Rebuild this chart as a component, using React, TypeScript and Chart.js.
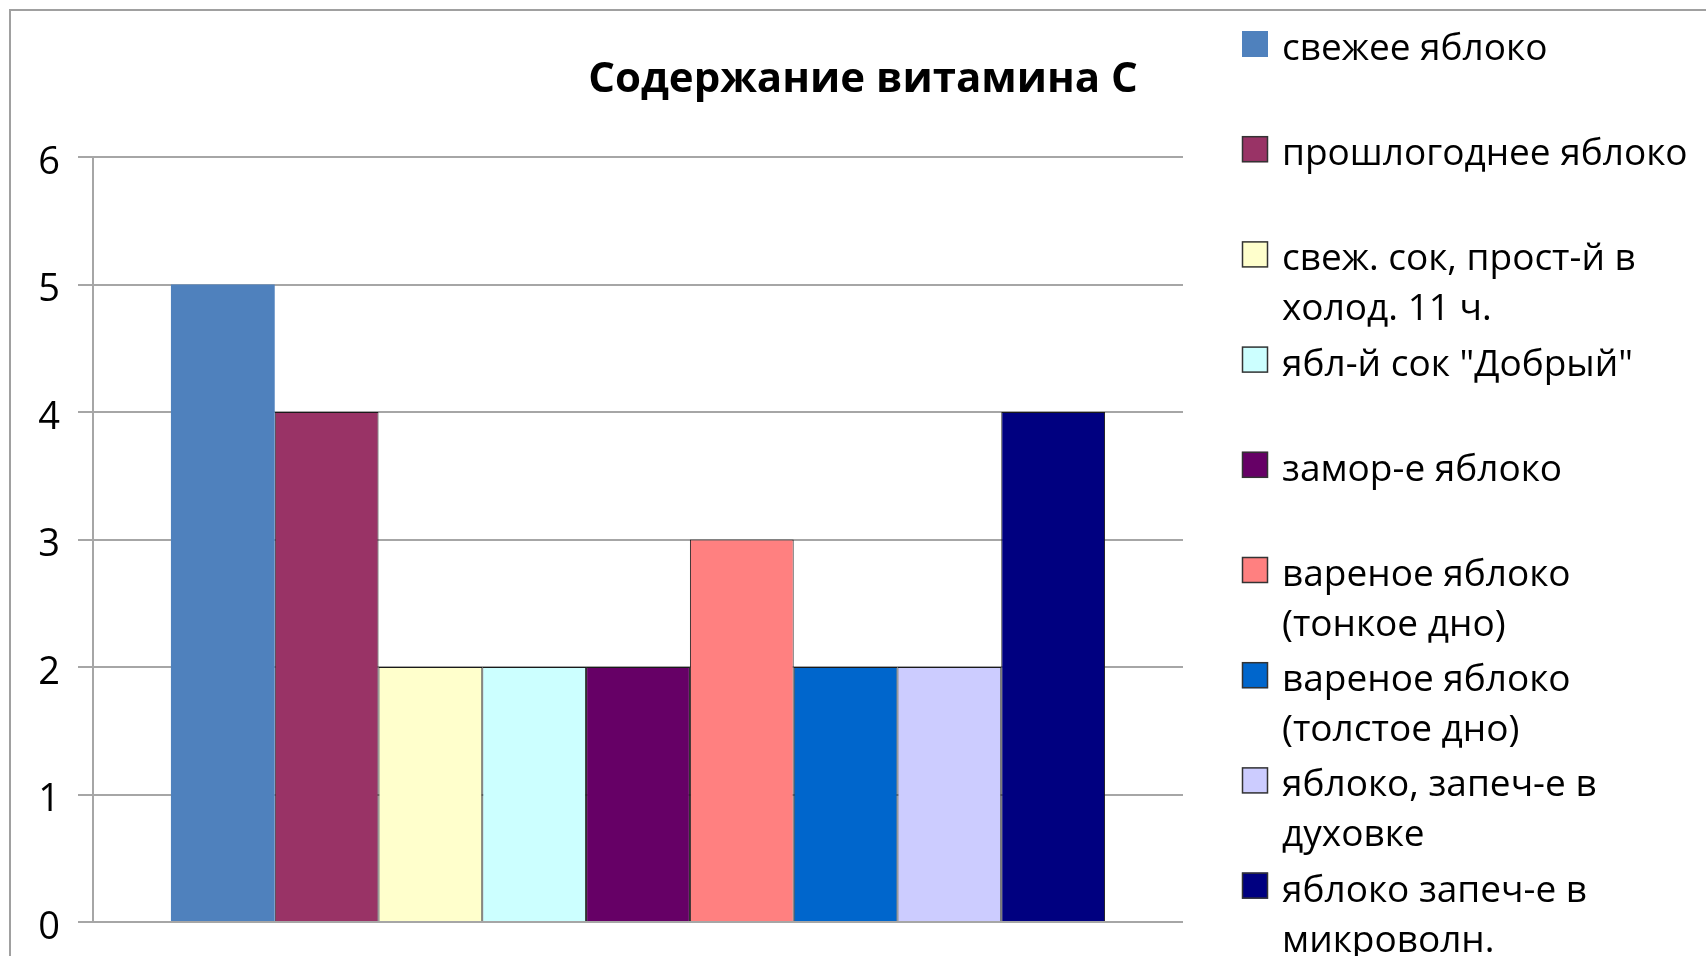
import React, { useEffect, useRef } from 'react';
import { Chart, registerables } from 'chart.js';

Chart.register(...registerables);

const FONT = '"Open Sans", "Noto Sans", sans-serif';

const chartTitle = 'Содержание витамина С';
const categories = ['Витамин С'];
const seriesLabels = [
  'свежее яблоко',
  'прошлогоднее яблоко',
  'свеж. сок, прост-й в\nхолод. 11 ч.',
  'ябл-й сок "Добрый"',
  'замор-е яблоко',
  'вареное яблоко\n(тонкое дно)',
  'вареное яблоко\n(толстое дно)',
  'яблоко, запеч-е в\nдуховке',
  'яблоко запеч-е в\nмикроволн.',
];
const seriesValues = [5, 4, 2, 2, 2, 3, 2, 2, 4];
const seriesColors = [
  '#4F81BD',
  '#993366',
  '#FFFFCC',
  '#CCFFFF',
  '#660066',
  '#FF8080',
  '#0066CC',
  '#CCCCFF',
  '#000080',
];
const seriesBorderWidths = [0, 1, 1, 1, 1, 1, 1, 1, 1];
const yMin = 0;
const yMax = 6;
const yStep = 1;

const framePlugin = {
  id: 'frame',
  beforeDraw(chart: any) {
    const ctx = chart.ctx;
    ctx.save();
    ctx.fillStyle = '#ffffff';
    ctx.fillRect(0, 0, chart.width, chart.height);
    ctx.strokeStyle = '#a0a0a0';
    ctx.lineWidth = 2;
    ctx.strokeRect(10, 10, chart.width + 50, chart.height + 50);
    ctx.restore();
  },
};

const legendPlugin = {
  id: 'sideLegend',
  afterDraw(chart: any) {
    const ctx = chart.ctx;
    ctx.save();
    ctx.font = `37px ${FONT}`;
    ctx.textAlign = 'left';
    ctx.textBaseline = 'alphabetic';
    chart.data.datasets.forEach((ds: any, i: number) => {
      const cy = 44 + 105.2 * i;
      const bx = 1242;
      const size = 26;
      ctx.fillStyle = ds.backgroundColor;
      ctx.fillRect(bx, cy - size / 2, size, size);
      if (ds.borderWidth > 0) {
        ctx.strokeStyle = '#333';
        ctx.lineWidth = 1.5;
        ctx.strokeRect(bx + 0.5, cy - size / 2 + 0.5, size - 1, size - 1);
      }
      ctx.fillStyle = '#000';
      const lines = (ds.legendText as string).split('\n');
      lines.forEach((line: string, j: number) => {
        ctx.fillText(line, 1282, cy + 16 + j * 50);
      });
    });
    ctx.restore();
  },
};

export default function App() {
  const ref = useRef<HTMLCanvasElement | null>(null);

  useEffect(() => {
    if (!ref.current) return;
    const chart = new Chart(ref.current, {
      type: 'bar',
      data: {
        labels: categories,
        datasets: seriesLabels.map((label, i) => ({
          label: label.replace('\n', ' '),
          legendText: label,
          data: [seriesValues[i]],
          backgroundColor: seriesColors[i],
          borderColor: '#1a1a1a',
          borderWidth: seriesBorderWidths[i],
          categoryPercentage: 0.857,
          barPercentage: 1,
          yAxisID: 'y',
        })) as any,
      },
      options: {
        animation: false,
        responsive: false,
        devicePixelRatio: 1,
        layout: { padding: { left: 20, right: 0, top: 0, bottom: 34 } },
        plugins: {
          legend: { display: false },
          tooltip: { enabled: false },
          title: {
            display: true,
            text: chartTitle,
            color: '#000',
            font: { family: FONT, size: 42, weight: 'bold', lineHeight: 1.2 },
            padding: { top: 55, bottom: 51.6 },
          },
        },
        scales: {
          x: { type: 'category', display: false },
          y: {
            type: 'linear',
            position: 'left',
            min: yMin,
            max: yMax,
            ticks: {
              stepSize: yStep,
              color: '#000',
              padding: 18,
              labelOffset: 6,
              font: { family: FONT, size: 38, lineHeight: 0.8 },
            },
            grid: { color: '#a6a6a6', lineWidth: 2, tickLength: 15, drawTicks: true },
            border: { display: true, color: '#a6a6a6', width: 2 },
            afterFit(scale: any) {
              scale.width = 73;
            },
          },
          y2: {
            type: 'linear',
            position: 'right',
            display: true,
            grid: { display: false, drawTicks: false },
            ticks: { display: false },
            border: { display: false },
            afterFit(scale: any) {
              scale.width = 523;
            },
          },
        },
      } as any,
      plugins: [framePlugin, legendPlugin],
    });
    return () => chart.destroy();
  }, []);

  return (
    <div style={{ position: 'absolute', left: 0, top: 0, width: 1706, height: 956, background: '#fff' }}>
      <canvas ref={ref} width={1706} height={956} />
    </div>
  );
}
